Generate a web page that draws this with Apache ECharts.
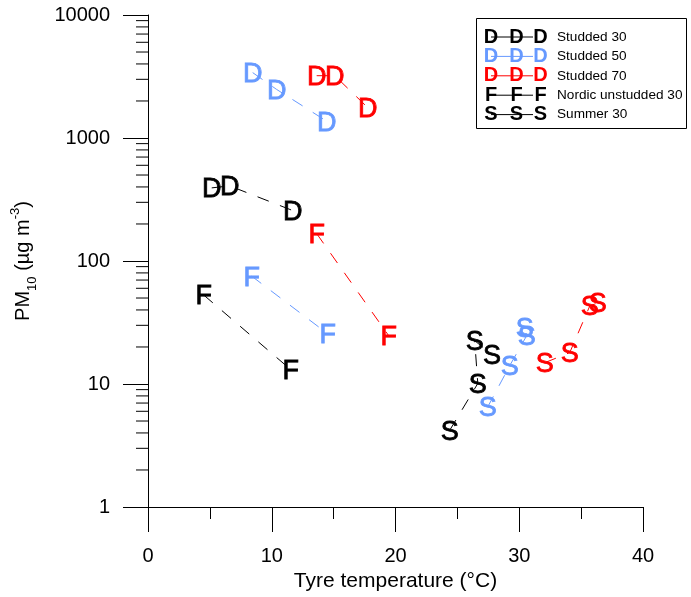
<!DOCTYPE html>
<html>
<head>
<meta charset="utf-8">
<script src="https://cdn.jsdelivr.net/npm/echarts@6/dist/echarts.min.js"></script>
<style>
html, body { margin: 0; padding: 0; background: #fff; }
#chart { width: 691px; height: 597px; }
</style>
</head>
<body>
<div id="chart"></div>
<script>
// Tick values
const xTicks = [0, 10, 20, 30, 40];
const yTicks = [1, 10, 100, 1000, 10000];
const yMinorTicks = [2, 3, 4, 5, 6, 7, 8, 9, 20, 30, 40, 50, 60, 70, 80, 90,
  200, 300, 400, 500, 600, 700, 800, 900, 2000, 3000, 4000, 5000, 6000, 7000, 8000, 9000];

// Measurements: [tyre temperature (°C), PM10 (µg m-3)]
const studded30 = [[5.15, 393], [6.6, 408], [11.7, 257]];
const studded50 = [[8.46, 3400], [10.4, 2480], [14.44, 1370]];
const studded70 = [[13.63, 3210], [15.09, 3210], [17.75, 1770]];
const nordic30 = [[4.5, 52.9], [11.53, 13.1]];
const nordic50 = [[8.38, 75.3], [14.52, 25.6]];
const nordic70 = [[13.63, 167], [19.45, 24.7]];
const summer30 = [[24.38, 4.2], [26.65, 10.1], [26.4, 22.5], [27.8, 17.3]];
const summer50 = [[27.45, 6.5], [29.23, 14.1], [30.6, 24.7], [30.44, 28.6]];
const summer70 = [[32.06, 14.9], [34.08, 18.0], [35.7, 43.1], [36.34, 45.6]];

// Legend entries
const legendNames = ['Studded 30', 'Studded 50', 'Studded 70', 'Nordic unstudded 30', 'Summer 30'];
const legendLetters = ['D', 'D', 'D', 'F', 'S'];
const legendColors = ['#000000', '#6699ff', '#ff0000', '#000000', '#000000'];

const FONT = '"Liberation Sans", Arial, sans-serif';
const BLACK = '#000000', BLUE = '#6699ff', RED = '#ff0000';

const groups = [
  { name: 'Studded 30', letter: 'D', color: BLACK, data: studded30 },
  { name: 'Studded 50', letter: 'D', color: BLUE, data: studded50 },
  { name: 'Studded 70', letter: 'D', color: RED, data: studded70 },
  { name: 'Nordic unstudded 30', letter: 'F', color: BLACK, data: nordic30 },
  { name: 'Nordic unstudded 50', letter: 'F', color: BLUE, data: nordic50 },
  { name: 'Nordic unstudded 70', letter: 'F', color: RED, data: nordic70 },
  { name: 'Summer 30', letter: 'S', color: BLACK, data: summer30 },
  { name: 'Summer 50', letter: 'S', color: BLUE, data: summer50 },
  { name: 'Summer 70', letter: 'S', color: RED, data: summer70 }
];

const series = groups.map(g => ({
  type: 'line',
  name: g.name,
  data: g.data,
  symbol: 'circle',
  symbolSize: 1,
  showSymbol: true,
  itemStyle: { color: 'rgba(0,0,0,0)' },
  lineStyle: { color: g.color, width: 1, type: [12, 12] },
  label: {
    show: true,
    position: 'inside',
    offset: [0, 2],
    formatter: g.letter,
    color: g.color,
    textBorderColor: g.color,
    textBorderWidth: 0.8,
    fontSize: 27,
    fontFamily: FONT,
    align: 'center',
    verticalAlign: 'middle'
  },
  emphasis: { disabled: true },
  silent: true,
  animation: false,
  z: 3
}));

// Short minor ticks on the logarithmic axis
series.push({
  type: 'custom',
  data: yMinorTicks.map(v => [0, v]),
  clip: false,
  silent: true,
  animation: false,
  renderItem: function (params, api) {
    const p = api.coord([0, api.value(1)]);
    return {
      type: 'line',
      shape: { x1: p[0] - 12, y1: p[1], x2: p[0], y2: p[1] },
      style: { stroke: '#000', lineWidth: 1 }
    };
  }
});

// Legend box drawn as graphic elements
const legendX = 476, legendY = 18, rowH = 19.4, firstRow = 37;
const legendGraphics = [{
  type: 'rect',
  shape: { x: legendX + 0.5, y: legendY + 0.5, width: 210, height: 110 },
  style: { fill: '#fff', stroke: '#000', lineWidth: 1 },
  z: 10
}];
legendNames.forEach((name, i) => {
  const cy = firstRow + i * rowH;
  legendGraphics.push({
    type: 'line',
    shape: { x1: 491, y1: cy, x2: 533, y2: cy },
    style: { stroke: legendColors[i], lineWidth: 1 },
    z: 11
  });
  [491, 516.5, 540.5].forEach(lx => {
    legendGraphics.push({
      type: 'text',
      x: lx, y: cy,
      style: {
        text: legendLetters[i], fill: legendColors[i],
        font: 'bold 20px ' + FONT, align: 'center', verticalAlign: 'middle'
      },
      z: 12
    });
  });
  legendGraphics.push({
    type: 'text',
    x: 557, y: cy,
    style: {
      text: name, fill: '#000',
      font: '13.6px ' + FONT, align: 'left', verticalAlign: 'middle'
    },
    z: 12
  });
});

const axisColor = '#000';
const chart = echarts.init(document.getElementById('chart'), null, { renderer: 'canvas' });
chart.setOption({
  backgroundColor: '#fff',
  animation: false,
  textStyle: { fontFamily: FONT },
  grid: { left: 148, right: 48, top: 15, bottom: 87, containLabel: false },
  xAxis: {
    type: 'value',
    min: xTicks[0],
    max: xTicks[xTicks.length - 1],
    interval: 10,
    axisLine: { onZero: false, lineStyle: { color: axisColor, width: 1 } },
    axisTick: { length: 25, lineStyle: { color: axisColor } },
    minorTick: { show: true, splitNumber: 2, length: 12, lineStyle: { color: axisColor } },
    splitLine: { show: false },
    axisLabel: { margin: 39, fontSize: 20, color: '#000', fontFamily: FONT },
    name: 'Tyre temperature (°C)',
    nameLocation: 'middle',
    nameGap: 64,
    nameTextStyle: { fontSize: 21, color: '#000', fontFamily: FONT }
  },
  yAxis: {
    type: 'log',
    logBase: 10,
    min: yTicks[0],
    max: yTicks[yTicks.length - 1],
    axisLine: { onZero: false, lineStyle: { color: axisColor, width: 1 } },
    axisTick: { length: 25, lineStyle: { color: axisColor } },
    splitLine: { show: false },
    axisLabel: {
      margin: 38, fontSize: 20, color: '#000', fontFamily: FONT,
      formatter: v => String(Math.round(v))
    },
    name: '{a|PM}{b|10}{a| (µg m}{c|-3}{a|)}',
    nameLocation: 'middle',
    nameGap: 115,
    nameTextStyle: {
      color: '#000',
      fontFamily: FONT,
      rich: {
        a: { fontSize: 20, fontFamily: FONT, color: '#000' },
        b: { fontSize: 13, fontFamily: FONT, color: '#000', verticalAlign: 'bottom', padding: [0, 0, -6, 0] },
        c: { fontSize: 13, fontFamily: FONT, color: '#000', verticalAlign: 'top', padding: [-4, 0, 0, 0] }
      }
    }
  },
  graphic: legendGraphics,
  series: series
});
</script>
</body>
</html>
